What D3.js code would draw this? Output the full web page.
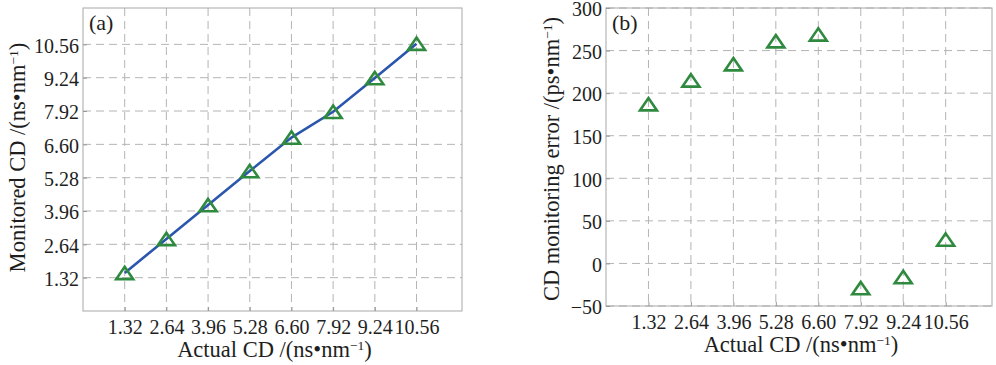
<!DOCTYPE html>
<html>
<head>
<meta charset="utf-8">
<script src="https://cdn.jsdelivr.net/npm/d3@7"></script>
<style>
  html, body { margin: 0; padding: 0; background: #fff; }
  svg { display: block; }
  text { font-family: "Liberation Serif", "DejaVu Serif", serif; fill: #1e1e1e; }
</style>
</head>
<body>
<svg id="chart" width="996" height="365"></svg>
<script>
// Actual chromatic dispersion values (ns/nm)
const actualCD = [1.32, 2.64, 3.96, 5.28, 6.60, 7.92, 9.24, 10.56];
// Monitoring error for each actual CD (ps/nm)
const errorPs = [187, 215, 234, 261, 269, -29, -16, 28];
// Monitored CD (ns/nm) = actual + error
const monitoredCD = [1.507, 2.855, 4.194, 5.541, 6.869, 7.891, 9.224, 10.588];

const cdTickLabels = ["1.32", "2.64", "3.96", "5.28", "6.60", "7.92", "9.24", "10.56"];
const errorTicks = [-50, 0, 50, 100, 150, 200, 250, 300];

const svg = d3.select("#chart");
const green = "#2f8a3f";
const blue = "#2b56ad";
const gridColor = "#b4b4b4";
const tickFont = 20;
const titleFont = 22.5;

// squat upward-pointing triangle marker
const squatTriangle = {
  draw(ctx, size) {
    const w = Math.sqrt(size) * 0.74, h = Math.sqrt(size) * 0.54;
    ctx.moveTo(0, -h);
    ctx.lineTo(w, h);
    ctx.lineTo(-w, h);
    ctx.closePath();
  }
};

function triangle(g, x, y, data, xKey, yKey) {
  const sym = d3.symbol().type(squatTriangle).size(132);
  g.selectAll("path.mark").data(data).join("path")
    .attr("class", "mark")
    .attr("d", sym)
    .attr("transform", d => `translate(${x(d[xKey])},${y(d[yKey])})`)
    .attr("fill", "none")
    .attr("stroke", green)
    .attr("stroke-width", 2.6)
    .attr("stroke-linejoin", "miter");
}

function unitTitle(sel, prefix, unit) {
  sel.append("tspan").text(prefix + "/(" + unit + "\u2022nm");
  sel.append("tspan").attr("baseline-shift", "super").attr("font-size", titleFont * 0.6).text("\u22121");
  sel.append("tspan").text(")");
}

function panel(opts) {
  const { left, top, width, height, yDomain, yTicks, yFormat, yTitlePrefix, yUnit, label, yTitleX, yTitleY } = opts;
  const g = svg.append("g").attr("transform", `translate(${left},${top})`);
  const x = d3.scaleLinear().domain([0, 12]).range([0, width]);
  const y = d3.scaleLinear().domain(yDomain).range([height, 0]);

  // dashed grid
  g.append("g").selectAll("line").data(actualCD).join("line")
    .attr("x1", d => x(d)).attr("x2", d => x(d))
    .attr("y1", 0).attr("y2", height)
    .attr("stroke", gridColor).attr("stroke-width", 1).attr("stroke-dasharray", "8,5");
  g.append("g").selectAll("line").data(yTicks).join("line")
    .attr("x1", 0).attr("x2", width)
    .attr("y1", d => y(d)).attr("y2", d => y(d))
    .attr("stroke", gridColor).attr("stroke-width", 1).attr("stroke-dasharray", "8,5");

  // frame
  g.append("rect").attr("width", width).attr("height", height)
    .attr("fill", "none").attr("stroke", "#a8a8a8").attr("stroke-width", 1);

  // axes
  const xAxis = d3.axisBottom(x).tickValues(actualCD)
    .tickFormat((d, i) => cdTickLabels[i]).tickSizeInner(-4).tickSizeOuter(0).tickPadding(8.5);
  const xg = g.append("g").attr("transform", `translate(0,${height})`).call(xAxis);
  const yAxis = d3.axisLeft(y).tickValues(yTicks).tickFormat(yFormat)
    .tickSizeInner(-4).tickSizeOuter(0).tickPadding(4);
  const yg = g.append("g").call(yAxis);
  yg.selectAll(".tick text").attr("dy", "0.39em");
  [xg, yg].forEach(a => {
    a.select(".domain").remove();
    a.selectAll(".tick line").attr("stroke", "#999");
    a.selectAll(".tick text").attr("font-size", tickFont)
      .attr("font-family", "Liberation Serif, serif").attr("fill", "#1e1e1e");
  });

  // titles
  const xt = g.append("text").attr("x", width / 2 + 2).attr("y", height + 46)
    .attr("text-anchor", "middle").attr("font-size", titleFont);
  unitTitle(xt, "Actual CD ", "ns");
  const yt = g.append("text")
    .attr("transform", `translate(${yTitleX},${yTitleY}) rotate(-90)`)
    .attr("text-anchor", "middle").attr("font-size", titleFont);
  unitTitle(yt, yTitlePrefix, yUnit);

  g.append("text").attr("x", 6).attr("y", 22).attr("font-size", 22).text(label);
  return { g, x, y };
}

// (a) monitored vs actual CD
const a = panel({
  left: 83, top: 8, width: 379, height: 303,
  yDomain: [0, 12], yTicks: actualCD,
  yFormat: (d, i) => cdTickLabels[i],
  yTitlePrefix: "Monitored CD ", yUnit: "ns", label: "(a)", yTitleX: -58, yTitleY: 149.5
});
const ptsA = actualCD.map((v, i) => ({ act: v, mon: monitoredCD[i] }));
a.g.append("path").datum(ptsA)
  .attr("d", d3.line().x(d => a.x(d.act)).y(d => a.y(d.mon)))
  .attr("fill", "none").attr("stroke", blue).attr("stroke-width", 2.6);
triangle(a.g, a.x, a.y, ptsA, "act", "mon");

// (b) monitoring error vs actual CD
const b = panel({
  left: 606, top: 8, width: 386, height: 298,
  yDomain: [-50, 300], yTicks: errorTicks,
  yFormat: d => d < 0 ? "\u2212" + Math.abs(d) : String(d),
  yTitlePrefix: "CD monitoring error ", yUnit: "ps", label: "(b)", yTitleX: -47, yTitleY: 151
});
const ptsB = actualCD.map((v, i) => ({ act: v, err: errorPs[i] }));
triangle(b.g, b.x, b.y, ptsB, "act", "err");
</script>
</body>
</html>
